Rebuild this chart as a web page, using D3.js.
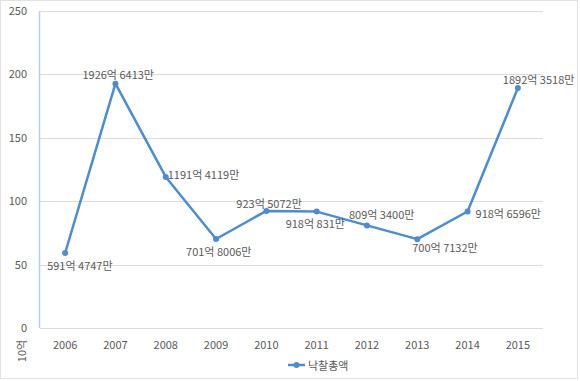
<!DOCTYPE html>
<html>
<head>
<meta charset="utf-8">
<script src="https://cdn.jsdelivr.net/npm/d3@7"></script>
<style>
  body { margin: 0; background: #fff; }
  text { font-family: "Noto Sans CJK KR", "Noto Sans", sans-serif; fill: #595959; }
</style>
</head>
<body>
<div id="chart"></div>
<script>
var years = ["2006", "2007", "2008", "2009", "2010", "2011", "2012", "2013", "2014", "2015"];
var amounts = [59.15, 192.66, 119.14, 70.18, 92.35, 91.81, 80.93, 70.07, 91.87, 189.24];
var labels = ["591억 4747만", "1926억 6413만", "1191억 4119만", "701억 8006만", "923억 5072만",
              "918억 831만", "809억 3400만", "700억 7132만", "918억 6596만", "1892억 3518만"];
var yTicks = [0, 50, 100, 150, 200, 250];
var seriesName = "낙찰총액";
var unitLabel = "10억";

// label offsets from each point (left edge, vertical centre)
var labelOffsets = [[-18, 12], [-33, -10], [2, -3], [-30, 12], [-30, -8],
                    [-31, 11], [-18, -11], [-5, 8], [8, 1], [-15, -9]];

var svgWidth = 580;
var svgHeight = 381;
var margin = { top: 11, right: 37, bottom: 53, left: 40 };
var width = svgWidth - margin.left - margin.right;
var height = svgHeight - margin.top - margin.bottom;
var lineColor = "#4a8cd6";

var svg = d3.select("#chart")
    .append("svg")
    .attr("width", svgWidth)
    .attr("height", svgHeight);

svg.append("rect")
    .attr("x", 0.5).attr("y", 0.5)
    .attr("width", 577).attr("height", 378)
    .attr("fill", "#fff")
    .attr("stroke", "#e2e2e2");

var chartGroup = svg.append("g")
    .attr("transform", `translate(${margin.left}, ${margin.top})`);

var xScale = d3.scaleBand()
    .domain(years)
    .range([0, width]);

var yScale = d3.scaleLinear()
    .domain([0, 250])
    .range([height, 0]);

// gridlines
chartGroup.append("g")
    .selectAll("line")
    .data(yTicks)
    .enter()
    .append("line")
    .attr("x1", 0)
    .attr("x2", width)
    .attr("y1", d => Math.round(yScale(d)) + 0.5)
    .attr("y2", d => Math.round(yScale(d)) + 0.5)
    .attr("stroke", "#dcdcdc");

// y axis line
chartGroup.append("line")
    .attr("x1", -0.5).attr("x2", -0.5)
    .attr("y1", 0).attr("y2", height)
    .attr("stroke", "#b8cde8")
    .attr("stroke-width", 1.5);

var leftAxis = d3.axisLeft(yScale).tickValues(yTicks).tickSize(0).tickPadding(13);
var yAxisG = chartGroup.append("g").call(leftAxis);
yAxisG.select(".domain").remove();
yAxisG.selectAll("text").style("font-size", "11px").attr("fill", "#595959");

var bottomAxis = d3.axisBottom(xScale).tickSize(0).tickPadding(13);
var xAxisG = chartGroup.append("g")
    .attr("transform", `translate(0, ${height})`)
    .call(bottomAxis);
xAxisG.select(".domain").remove();
xAxisG.selectAll("text").style("font-size", "11px").attr("fill", "#595959");

var data = years.map((y, i) => ({ year: y, value: amounts[i], label: labels[i], off: labelOffsets[i] }));
var cx = d => xScale(d.year) + xScale.bandwidth() / 2;

var line = d3.line()
    .x(cx)
    .y(d => yScale(d.value));

chartGroup.append("path")
    .datum(data)
    .attr("d", line)
    .attr("fill", "none")
    .attr("stroke", lineColor)
    .attr("stroke-width", 2.5)
    .attr("stroke-linejoin", "round");

chartGroup.selectAll("circle")
    .data(data)
    .enter()
    .append("circle")
    .attr("cx", cx)
    .attr("cy", d => yScale(d.value))
    .attr("r", 3)
    .attr("fill", lineColor);

chartGroup.selectAll(".dlabel")
    .data(data)
    .enter()
    .append("text")
    .attr("class", "dlabel")
    .attr("x", d => cx(d) + d.off[0])
    .attr("y", d => yScale(d.value) + d.off[1])
    .attr("dominant-baseline", "central")
    .style("font-size", "11px")
    .text(d => d.label);

// unit label
svg.append("text")
    .attr("transform", "translate(21, 351) rotate(-90)")
    .attr("text-anchor", "middle")
    .attr("dominant-baseline", "central")
    .style("font-size", "11px")
    .text(unitLabel);

// legend
var legend = svg.append("g").attr("transform", "translate(288, 365)");
legend.append("line")
    .attr("x1", 0).attr("x2", 17)
    .attr("stroke", lineColor)
    .attr("stroke-width", 2.5);
legend.append("circle")
    .attr("cx", 8.5).attr("r", 3)
    .attr("fill", lineColor);
legend.append("text")
    .attr("x", 20)
    .attr("dominant-baseline", "central")
    .style("font-size", "11px")
    .text(seriesName);
</script>
</body>
</html>
